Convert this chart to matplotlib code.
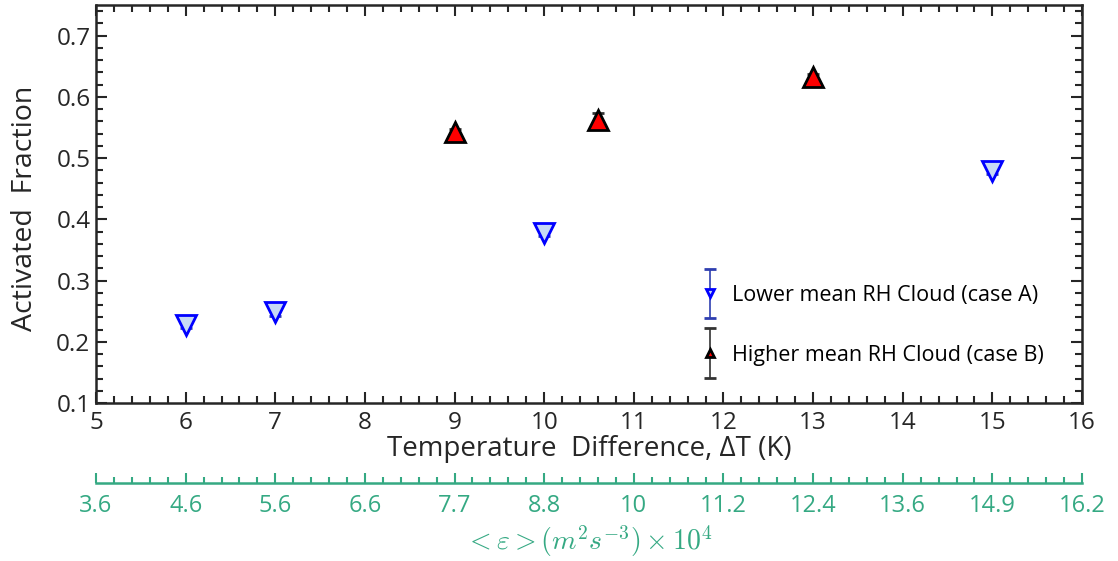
import numpy as np
import matplotlib
matplotlib.use("Agg")
import matplotlib.pyplot as plt
from matplotlib.ticker import MultipleLocator
from matplotlib.legend_handler import HandlerErrorbar
from matplotlib.container import ErrorbarContainer

plt.rcParams['font.family'] = ['Open Sans', 'DejaVu Sans']
plt.rcParams['mathtext.fontset'] = 'cm'

# case A: lower mean RH cloud
dT_a = [6, 7, 10, 15]
af_a = [0.228, 0.248, 0.378, 0.479]
err_a = [0.006, 0.006, 0.006, 0.005]

# case B: higher mean RH cloud
dT_b = [9, 10.6, 13]
af_b = [0.542, 0.563, 0.632]
err_b = [0.006, 0.010, 0.006]

# dissipation rate labels for the secondary axis (x 1e4)
eps_pos = [5, 6, 7, 8, 9, 10, 11, 12, 13, 14, 15, 16]
eps_lab = ['3.6', '4.6', '5.6', '6.6', '7.7', '8.8', '10', '11.2', '12.4', '13.6', '14.9', '16.2']

green = '#35a983'
dark = '#262626'

fig = plt.figure(figsize=(11.18, 5.61), dpi=100)
ax = fig.add_axes([0.0859, 0.2816, 0.8819, 0.7095])

ea = ax.errorbar(dT_a, af_a, yerr=err_a, fmt='v', ms=14, mfc=(0.78, 0.85, 0.96),
                 mec='blue', mew=2, ecolor='#2f3fb0', elinewidth=1.2, capsize=4,
                 label='Lower mean RH Cloud (case A)')
eb = ax.errorbar(dT_b, af_b, yerr=err_b, fmt='^', ms=14, mfc='red',
                 mec='black', mew=2, ecolor='#333333', elinewidth=1.2, capsize=4,
                 label='Higher mean RH Cloud (case B)')

ax.set_xlim(5, 16)
ax.set_ylim(0.1, 0.75)
ax.xaxis.set_major_locator(MultipleLocator(1))
ax.xaxis.set_minor_locator(MultipleLocator(0.2))
ax.yaxis.set_minor_locator(MultipleLocator(0.02))
ax.set_yticks(np.arange(0.1, 0.71, 0.1))
ax.set_yticklabels(['0.1', '0.2', '0.3', '0.4', '0.5', '0.6', '0.7'])
ax.tick_params(which='both', direction='in', top=True, right=True, colors=dark,
               labelsize=17.5, width=1.5)
ax.tick_params(which='major', length=8)
ax.tick_params(which='minor', length=5)
ax.tick_params(axis='x', pad=6)
ax.tick_params(axis='y', pad=4)
for s in ax.spines.values():
    s.set_linewidth(1.8)
    s.set_color(dark)

ax.set_xlabel('Temperature  Difference, ΔT (K)', fontsize=20, color=dark, labelpad=0)
ax.set_ylabel('Activated  Fraction', fontsize=20.5, color=dark)
ax.yaxis.set_label_coords(-0.058, 0.49)

# legend with small markers and tall error bars
leg = ax.legend(handles=[ea, eb], loc='center', bbox_to_anchor=(0.787, 0.195),
                frameon=False, fontsize=15.5, markerscale=0.42, labelspacing=1.8,
                handlelength=0.9, handletextpad=0.55,
                handler_map={ErrorbarContainer: HandlerErrorbar(xerr_size=0.5, yerr_size=1.15)})

# dissipation rate axis below the main one
sec = ax.secondary_xaxis(-0.2)
sec.set_xticks(eps_pos)
sec.set_xticklabels(eps_lab)
sec.xaxis.set_minor_locator(MultipleLocator(0.2))
sec.tick_params(which='both', direction='in', colors=green, labelsize=17, width=1.5, pad=8)
sec.tick_params(which='major', length=7)
sec.tick_params(which='minor', length=4)
sec.spines['bottom'].set_color(green)
sec.spines['bottom'].set_linewidth(1.8)
sec.set_xlabel(r'$<\varepsilon>(m^2s^{-3})\times 10^4$', fontsize=20, color=green, labelpad=4)

fig.savefig('out.png', dpi=100)
